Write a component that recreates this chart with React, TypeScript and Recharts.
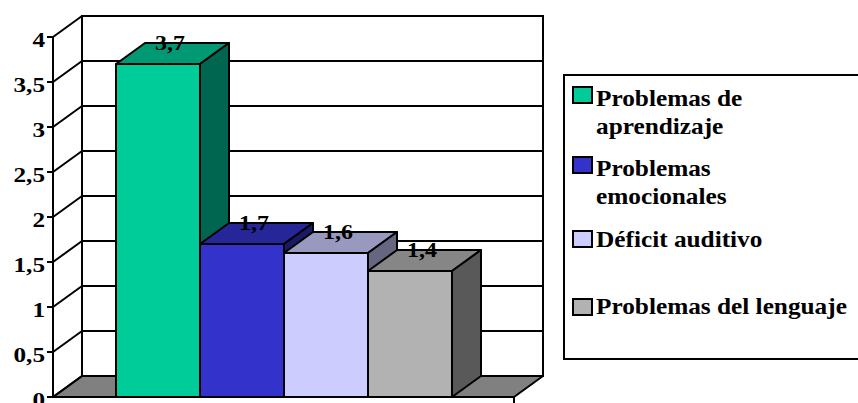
import { BarChart, Bar, XAxis, YAxis, CartesianGrid, Legend, LabelList } from 'recharts';

const seriesNames = [
  'Problemas de aprendizaje',
  'Problemas emocionales',
  'Déficit auditivo',
  'Problemas del lenguaje',
];
const seriesValues = [3.7, 1.7, 1.6, 1.4];
const yTicks = [0, 0.5, 1, 1.5, 2, 2.5, 3, 3.5, 4];

// legend text is wrapped onto two lines for the first two entries
const legendLines = [
  ['Problemas de', 'aprendizaje'],
  ['Problemas', 'emocionales'],
  ['Déficit auditivo'],
  ['Problemas del lenguaje'],
];

const keys = ['s0', 's1', 's2', 's3'];
const rows = [
  seriesValues.reduce((row: any, v, i) => ({ ...row, [keys[i]]: v }), { name: 'all' }),
];

// front / top / side shades per series
const palette = [
  { front: '#00CC99', top: '#009973', side: '#006650' },
  { front: '#3333CC', top: '#262699', side: '#1A1A66' },
  { front: '#CCCCFF', top: '#9999BF', side: '#666680' },
  { front: '#B2B2B2', top: '#868686', side: '#595959' },
];

const DX = 29;
const DY = -21;
const FONT = '"Liberation Serif", "Times New Roman", serif';

const fmt = (v: number) => String(v).replace('.', ',');

// walls and floor of the 3D box, hung on the horizontal grid lines
const WallLine = (props: any) => {
  const { x1, x2, y1, y, height } = props;
  const top = Math.abs(y1 - y) < 0.5;
  const bottom = Math.abs(y1 - (y + height)) < 0.5;
  return (
    <g>
      {bottom && (
        <g>
          <polygon
            points={`${x1},${y1} ${x2},${y1} ${x2 + DX},${y1 + DY} ${x1 + DX},${y1 + DY}`}
            fill="#808080"
            stroke="#000"
            strokeWidth={2}
            strokeLinejoin="round"
          />
          <line x1={x2} y1={y1} x2={x2} y2={y1 + 7} stroke="#000" strokeWidth={2} />
        </g>
      )}
      {top && (
        <rect
          x={x1 + DX}
          y={y1 + DY}
          width={x2 - x1}
          height={height}
          fill="none"
          stroke="#000"
          strokeWidth={2}
        />
      )}
      <line x1={x1 + DX} y1={y1 + DY} x2={x2 + DX} y2={y1 + DY} stroke="#000" strokeWidth={2} />
      <line x1={x1} y1={y1} x2={x1 + DX} y2={y1 + DY} stroke="#000" strokeWidth={2} />
    </g>
  );
};

const makeBox = (i: number) => (props: any) => {
  const { x, y, width, height } = props;
  const c = palette[i];
  return (
    <g stroke="#000" strokeWidth={2} strokeLinejoin="round">
      <rect x={x} y={y} width={width} height={height} fill={c.front} />
      <polygon
        points={`${x},${y} ${x + DX},${y + DY} ${x + width + DX},${y + DY} ${x + width},${y}`}
        fill={c.top}
      />
      <polygon
        points={`${x + width},${y} ${x + width + DX},${y + DY} ${x + width + DX},${y + height + DY} ${x + width},${y + height}`}
        fill={c.side}
      />
    </g>
  );
};

const ValueLabel = (props: any) => {
  const { x, y, width, value } = props;
  const cx = x + width / 2 + 12;
  const by = y - 14;
  return (
    <text
      x={0}
      y={0}
      transform={`translate(${cx},${by}) scale(1.2,1)`}
      textAnchor="middle"
      fontFamily={FONT}
      fontWeight="bold"
      fontSize={20}
      fill="#000"
    >
      {fmt(value)}
    </text>
  );
};

const YTick = (props: any) => {
  const { x, y, payload } = props;
  return (
    <text
      x={0}
      y={0}
      transform={`translate(${x},${y + 10}) scale(1.2,1)`}
      textAnchor="end"
      fontFamily={FONT}
      fontWeight="bold"
      fontSize={21}
      fill="#000"
    >
      {fmt(payload.value)}
    </text>
  );
};

const legendTops = [13, 83, 157, 225];
const legendBaselines = [[32, 60], [102, 130], [173], [240]];

const LegendBox = (props: any) => {
  const entries = props.payload || [];
  // keep the series order, whatever order the legend hands over
  const ordered = seriesNames.map((n) => entries.find((e: any) => e.value === n)).filter(Boolean);
  return (
    <svg width={295} height={287} style={{ display: 'block' }}>
      <rect x={1} y={1} width={330} height={284} fill="#fff" stroke="#000" strokeWidth={2} />
      {ordered.map((entry: any, i: number) => (
        <g key={entry.value}>
          <rect
            x={10}
            y={legendTops[i]}
            width={19}
            height={16}
            fill={entry.color}
            stroke="#000"
            strokeWidth={2}
          />
          {legendLines[i].map((line, j) => (
            <text
              key={line}
              x={0}
              y={0}
              transform={`translate(33,${legendBaselines[i][j]}) scale(1.1,1)`}
              fontFamily={FONT}
              fontWeight="bold"
              fontSize={23}
              fill="#000"
            >
              {line}
            </text>
          ))}
        </g>
      ))}
    </svg>
  );
};

export default function App() {
  return (
    <div style={{ position: 'absolute', left: 0, top: 0, width: 858, height: 403, background: '#fff' }}>
      <BarChart
        width={858}
        height={403}
        data={rows}
        margin={{ top: 37, right: 344, bottom: 6, left: 8 }}
        barCategoryGap={63}
        barGap={0}
      >
        <CartesianGrid horizontal={WallLine} vertical={false} />
        <XAxis dataKey="name" hide />
        <YAxis
          width={45}
          domain={[0, 4]}
          ticks={yTicks}
          interval={0}
          tickSize={6}
          tickMargin={2}
          axisLine={{ stroke: '#000', strokeWidth: 2 }}
          tickLine={{ stroke: '#000', strokeWidth: 2 }}
          tick={<YTick />}
        />
        <Legend
          layout="horizontal"
          align="center"
          verticalAlign="middle"
          content={<LegendBox />}
          wrapperStyle={{ left: 563, top: 74, width: 295, height: 287 }}
        />
        {keys.map((k, i) => (
          <Bar
            key={k}
            dataKey={k}
            name={seriesNames[i]}
            fill={palette[i].front}
            shape={makeBox(i)}
            isAnimationActive={false}
          >
            <LabelList dataKey={k} content={<ValueLabel />} />
          </Bar>
        ))}
      </BarChart>
    </div>
  );
}
